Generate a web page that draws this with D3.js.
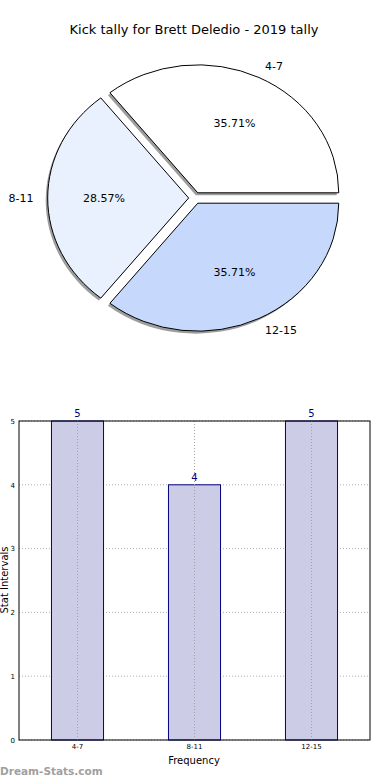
<!DOCTYPE html>
<html>
<head>
<meta charset="utf-8">
<script src="https://cdn.jsdelivr.net/npm/d3@7"></script>
<style>
  body { margin: 0; background: #fff; }
  svg { display: block; font-family: "DejaVu Sans", sans-serif; }
</style>
</head>
<body>
<div id="chart"></div>
<script>
const title = 'Kick tally for Brett Deledio - 2019 tally';
const categories = ['4-7', '8-11', '12-15'];
const counts = [5, 4, 5];
const sliceColors = ['#ffffff', '#eaf1fe', '#c6d9fd'];
const yTicks = [0, 1, 2, 3, 4, 5];

const W = 390;
const H = 780;

const svg = d3.select('#chart')
  .append('svg')
    .attr('width', W)
    .attr('height', H);

// title
svg.append('text')
  .attr('x', 194)
  .attr('y', 34)
  .attr('text-anchor', 'middle')
  .style('font-size', '13px')
  .text(title);

// ---- pie (matplotlib style: starts at 3 o'clock, counter-clockwise)
const cx = 195;
const cy = 198;
const rx = 141;
const ry = 128;
const explode = 0.045;
const total = d3.sum(counts);

const pie = d3.pie()
  .sort(null)
  .startAngle(Math.PI / 2)
  .endAngle(Math.PI / 2 - 2 * Math.PI);

const arc = d3.arc().innerRadius(0).outerRadius(1);
const slices = pie(counts);
const mid = d => (d.startAngle + d.endAngle) / 2;
const offset = (d, k) => [cx + k * rx * Math.sin(mid(d)), cy - k * ry * Math.cos(mid(d))];

const pieG = svg.append('g').attr('class', 'pie');

// shadows
pieG.selectAll('.shadow')
  .data(slices)
  .enter()
  .append('path')
    .attr('class', 'shadow')
    .attr('d', arc)
    .attr('fill', '#8c8c8c')
    .attr('opacity', 0.85)
    .attr('transform', d => {
      const [x, y] = offset(d, explode);
      return `translate(${x - 2}, ${y + 2.5}) scale(${rx}, ${ry})`;
    });

pieG.selectAll('.slice')
  .data(slices)
  .enter()
  .append('path')
    .attr('class', 'slice')
    .attr('d', arc)
    .attr('fill', (d, i) => sliceColors[i])
    .attr('stroke', '#000')
    .attr('stroke-width', 1)
    .attr('vector-effect', 'non-scaling-stroke')
    .attr('transform', d => {
      const [x, y] = offset(d, explode);
      return `translate(${x}, ${y}) scale(${rx}, ${ry})`;
    });

// category labels
pieG.selectAll('.label')
  .data(slices)
  .enter()
  .append('text')
    .attr('class', 'label')
    .attr('x', d => offset(d, explode + 1.1)[0])
    .attr('y', d => offset(d, explode + 1.1)[1])
    .attr('dy', '0.35em')
    .attr('text-anchor', d => (Math.sin(mid(d)) > 0 ? 'start' : 'end'))
    .style('font-size', '11px')
    .text((d, i) => categories[i]);

// percent labels
pieG.selectAll('.pct')
  .data(slices)
  .enter()
  .append('text')
    .attr('class', 'pct')
    .attr('x', d => offset(d, explode + 0.6)[0])
    .attr('y', d => offset(d, explode + 0.6)[1])
    .attr('dy', '0.35em')
    .attr('text-anchor', 'middle')
    .style('font-size', '11px')
    .text(d => `${(d.value / total * 100).toFixed(2)}%`);

// ---- bar chart
const plotLeft = 19;
const plotRight = 370;
const plotTop = 421;
const plotBottom = 740;

const x = d3.scaleBand()
  .domain(categories)
  .range([plotLeft, plotRight]);

const y = d3.scaleLinear()
  .domain([0, 5])
  .range([plotBottom, plotTop]);

const barW = x.bandwidth() * 0.445;
const bars = svg.append('g').attr('class', 'bars');

// grid
bars.append('g')
  .selectAll('line')
  .data(yTicks)
  .enter()
  .append('line')
    .attr('x1', plotLeft)
    .attr('x2', plotRight)
    .attr('y1', d => y(d))
    .attr('y2', d => y(d))
    .attr('stroke', '#b0b0b0')
    .attr('stroke-dasharray', '1,2');

bars.append('g')
  .selectAll('rect')
  .data(categories)
  .enter()
  .append('rect')
    .attr('x', d => x(d) + (x.bandwidth() - barW) / 2)
    .attr('y', (d, i) => y(counts[i]))
    .attr('width', barW)
    .attr('height', (d, i) => y(0) - y(counts[i]))
    .attr('fill', '#ccccE6')
    .attr('stroke', '#000080')
    .attr('stroke-width', 1);

bars.append('g')
  .selectAll('line')
  .data(categories)
  .enter()
  .append('line')
    .attr('x1', d => x(d) + x.bandwidth() / 2)
    .attr('x2', d => x(d) + x.bandwidth() / 2)
    .attr('y1', plotTop)
    .attr('y2', plotBottom)
    .attr('stroke', '#a0a0a8')
    .attr('stroke-dasharray', '1,2');

// value labels
bars.append('g')
  .selectAll('text')
  .data(categories)
  .enter()
  .append('text')
    .attr('x', d => x(d) + x.bandwidth() / 2)
    .attr('y', (d, i) => y(counts[i]) - 4)
    .attr('text-anchor', 'middle')
    .attr('fill', '#000080')
    .style('font-size', '10px')
    .text((d, i) => counts[i]);

// frame
bars.append('rect')
  .attr('x', plotLeft)
  .attr('y', plotTop)
  .attr('width', plotRight - plotLeft)
  .attr('height', plotBottom - plotTop)
  .attr('fill', 'none')
  .attr('stroke', '#000')
  .attr('stroke-width', 1);

// axes
const axisY = d3.axisLeft(y)
  .tickValues(yTicks)
  .tickFormat(d3.format('d'))
  .tickSize(0)
  .tickPadding(4);

bars.append('g')
  .attr('transform', `translate(${plotLeft}, 0)`)
  .call(axisY)
  .call(g => g.select('.domain').remove())
  .call(g => g.selectAll('text').style('font-size', '7px').style('font-family', '"DejaVu Sans", sans-serif'));

const axisX = d3.axisBottom(x)
  .tickSize(0)
  .tickPadding(4);

bars.append('g')
  .attr('transform', `translate(0, ${plotBottom})`)
  .call(axisX)
  .call(g => g.select('.domain').remove())
  .call(g => g.selectAll('text').style('font-size', '7px').style('font-family', '"DejaVu Sans", sans-serif'));

svg.append('text')
  .attr('x', 194)
  .attr('y', 764)
  .attr('text-anchor', 'middle')
  .style('font-size', '10px')
  .text('Frequency');

svg.append('text')
  .attr('transform', 'translate(8, 580) rotate(-90)')
  .attr('text-anchor', 'middle')
  .style('font-size', '10px')
  .text('Stat Intervals');

// watermark
svg.append('text')
  .attr('x', 0)
  .attr('y', 775)
  .attr('fill', '#a0a0a0')
  .style('font-size', '10.5px')
  .style('font-weight', 'bold')
  .text('Dream-Stats.com');
</script>
</body>
</html>
